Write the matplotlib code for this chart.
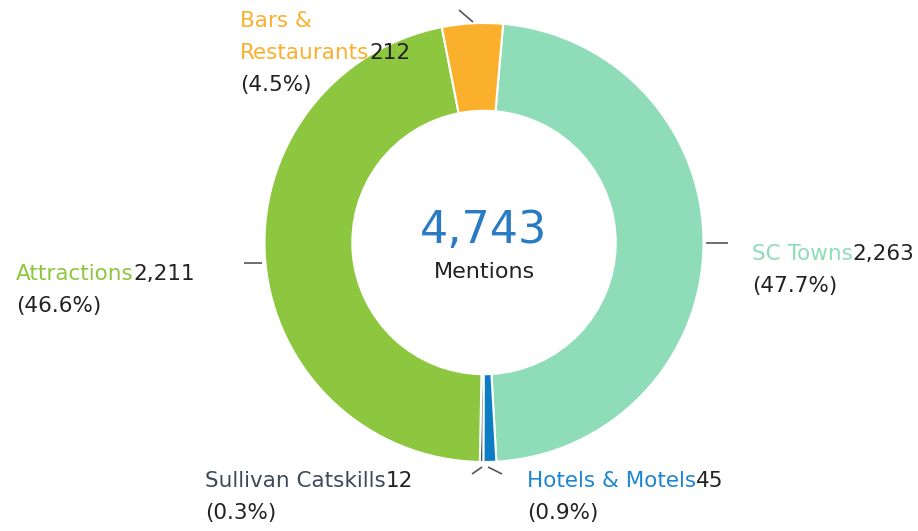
import matplotlib.pyplot as plt

categories = ["SC Towns", "Hotels & Motels", "Sullivan Catskills", "Attractions", "Bars &\nRestaurants"]
values = [2263, 45, 12, 2211, 212]
center_label = "Mentions"

wedge_colors = ["#8EDDB8", "#0C7CC4", "#3D4A5C", "#8DC63F", "#FBB02D"]
name_colors = ["#8EDDB8", "#1C86D1", "#3D4A5C", "#8DC63F", "#FBB02D"]
# label anchor (image px): left x, baseline of first line
label_pos = [(752, 260), (527, 487), (205, 487), (16, 280), (240, 27)]
# leader lines (image px)
leaders = [((706, 243), (728, 243)), ((488, 467), (502, 474)), ((482, 467), (472, 474)),
           ((262, 263), (244, 263)), ((473, 22), (459, 10))]

W, H = 918, 531
fig = plt.figure(figsize=(W / 100, H / 100), dpi=100)
ax = fig.add_axes([0, 0, 1, 1])

cx, cy, R = 484, H - 242.5, 219.5
ax.pie(values, colors=wedge_colors, startangle=85, counterclock=False,
       radius=R, center=(cx, cy),
       wedgeprops=dict(width=R * 0.4, edgecolor="white", linewidth=1.5))
ax.set_xlim(0, W)
ax.set_ylim(0, H)
ax.set_aspect("equal")
ax.axis("off")

font = "DejaVu Sans"
fs = 15.5
dark = "#222222"
total = sum(values)
line_h = 32

for name, v, col, (lx, ly), ((x0, y0), (x1, y1)) in zip(categories, values, name_colors, label_pos, leaders):
    ax.plot([x0, x1], [H - y0, H - y1], color="#555555", lw=1.2, solid_capstyle="butt")
    lines = name.split("\n")
    y = ly
    for ln in lines[:-1]:
        ax.text(lx, H - y, ln, color=col, fontsize=fs, family=font, va="baseline", ha="left")
        y += line_h
    t = ax.text(lx, H - y, lines[-1], color=col, fontsize=fs, family=font, va="baseline", ha="left")
    ax.annotate(f"{v:,}", xy=(1, 0), xycoords=t, color=dark, fontsize=fs, family=font,
                va="bottom", ha="left")
    y += line_h
    ax.text(lx, H - y, f"({v / total * 100:.1f}%)", color=dark, fontsize=fs, family=font,
            va="baseline", ha="left")

ax.text(cx, H - 230, f"{total:,}", color="#2B7BC4", fontsize=32, family=font, ha="center", va="center")
ax.text(cx, H - 272, center_label, color="#222222", fontsize=16, family=font, ha="center", va="center")

fig.savefig("out.png", dpi=100)
